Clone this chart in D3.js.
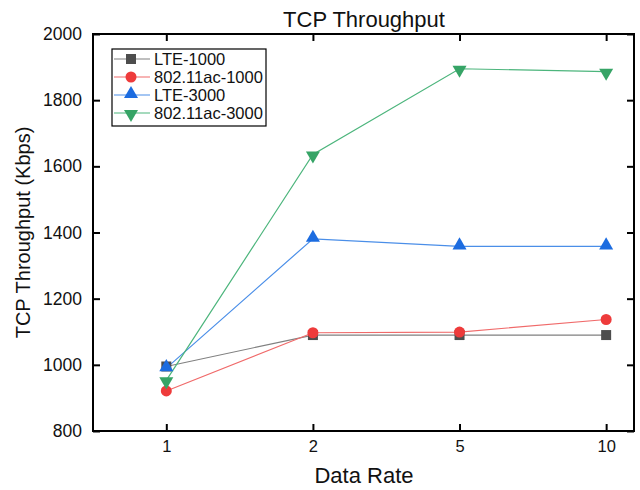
<!DOCTYPE html>
<html>
<head>
<meta charset="utf-8">
<title>TCP Throughput</title>
<style>
  body { margin: 0; background: #fff; }
  text { font-family: "Liberation Sans", Arial, sans-serif; fill: #111; }
</style>
</head>
<body>
<div id="chart"></div>
<script src="https://d3js.org/d3.v7.min.js"></script>
<script>

// data
var rates = ["1", "2", "5", "10"];
var lte1000 = [995, 1090, 1090, 1090];
var ac1000 = [921, 1097, 1099, 1137];
var lte3000 = [990, 1381, 1358, 1358];
var ac3000 = [953, 1636, 1895, 1886];
var yTicks = [800, 1000, 1200, 1400, 1600, 1800, 2000];

var series = [
    { name: "LTE-1000", values: lte1000, line: "#808080", fill: "#4d4d4d", shape: "square" },
    { name: "802.11ac-1000", values: ac1000, line: "#f06a6a", fill: "#ee3b3b", shape: "circle" },
    { name: "LTE-3000", values: lte3000, line: "#4a8ee8", fill: "#1c6ce0", shape: "up" },
    { name: "802.11ac-3000", values: ac3000, line: "#4cb57c", fill: "#36a466", shape: "down" }
];

var width = 640, height = 490;
var margin = {top: 34, right: 6, bottom: 59, left: 93};

var svg = d3.select("#chart").append("svg")
    .attr("width", width)
    .attr("height", height);

// categories placed by index, the axis runs a bit past the last one
var x = d3.scaleLinear()
    .domain([-0.5, 3.19])
    .range([margin.left, width - margin.right]);

var y = d3.scaleLinear()
    .domain([800, 2000])
    .range([height - margin.bottom, margin.top]);

var idx = d3.range(rates.length);

// axes, ticks pointing inward
svg.append("g")
    .attr("transform", "translate(0," + (height - margin.bottom) + ")")
    .call(d3.axisBottom(x).tickValues(idx).tickFormat(function(i) { return rates[i]; })
        .tickSizeInner(-7).tickSizeOuter(0).tickPadding(9))
    .call(styleAxis, "16.5px");

svg.append("g")
    .attr("transform", "translate(0," + margin.top + ")")
    .call(d3.axisTop(x).tickValues(idx).tickFormat("").tickSizeInner(-7).tickSizeOuter(0))
    .call(styleAxis, "16px");

svg.append("g")
    .attr("transform", "translate(" + margin.left + ",0)")
    .call(d3.axisLeft(y).tickValues(yTicks).tickFormat(d3.format("d"))
        .tickSizeInner(-7).tickSizeOuter(0).tickPadding(11))
    .call(styleAxis, "17.5px");

svg.append("g")
    .attr("transform", "translate(" + (width - margin.right) + ",0)")
    .call(d3.axisRight(y).tickValues(yTicks).tickFormat("").tickSizeInner(-7).tickSizeOuter(0))
    .call(styleAxis, "16px");

function styleAxis(g, size) {
    g.select(".domain").remove();
    g.selectAll(".tick line").attr("stroke", "#000").attr("stroke-width", 2);
    g.selectAll(".tick text").style("font-size", size).attr("fill", "#111");
}

// frame
svg.append("rect")
    .attr("x", margin.left)
    .attr("y", margin.top)
    .attr("width", width - margin.left - margin.right)
    .attr("height", height - margin.top - margin.bottom)
    .attr("fill", "none")
    .attr("stroke", "#000")
    .attr("stroke-width", 2);

// lines
var line = d3.line()
    .x(function(d, i) { return x(i); })
    .y(function(d) { return y(d); });

svg.selectAll(".series")
    .data(series)
    .enter().append("path")
    .attr("class", "series")
    .attr("d", function(d) { return line(d.values); })
    .attr("fill", "none")
    .attr("stroke", function(d) { return d.line; })
    .attr("stroke-width", 1.2);

var symbolFor = {
    square: d3.symbol().type(d3.symbolSquare).size(100),
    circle: d3.symbol().type(d3.symbolCircle).size(95),
    up: d3.symbol().type(d3.symbolTriangle).size(85),
    down: d3.symbol().type(d3.symbolTriangle).size(85)
};

function markerTransform(shape, px, py) {
    if (shape === "down") return "translate(" + px + "," + (py + 1) + ") rotate(180)";
    if (shape === "up") return "translate(" + px + "," + (py - 1) + ")";
    return "translate(" + px + "," + py + ")";
}

series.forEach(function(s) {
    svg.selectAll(null)
        .data(s.values)
        .enter().append("path")
        .attr("d", symbolFor[s.shape]())
        .attr("transform", function(d, i) { return markerTransform(s.shape, x(i), y(d)); })
        .attr("fill", s.fill);
});

// legend
var lg = svg.append("g").attr("transform", "translate(112,49)");
lg.append("rect")
    .attr("width", 154)
    .attr("height", 77)
    .attr("fill", "#fff")
    .attr("stroke", "#000")
    .attr("stroke-width", 1.2);

var item = lg.selectAll(".item")
    .data(series)
    .enter().append("g")
    .attr("class", "item")
    .attr("transform", function(d, i) { return "translate(0," + (10 + i * 18) + ")"; });

item.append("line")
    .attr("x1", 2).attr("x2", 38)
    .attr("stroke", function(d) { return d.line; })
    .attr("stroke-width", 1.2);

item.append("path")
    .attr("d", function(d) { return symbolFor[d.shape](); })
    .attr("transform", function(d) { return markerTransform(d.shape, 19, 0); })
    .attr("fill", function(d) { return d.fill; });

item.append("text")
    .attr("x", 42)
    .attr("dy", "0.36em")
    .style("font-size", "16.5px")
    .text(function(d) { return d.name; });

// titles
svg.append("text")
    .attr("x", 364)
    .attr("y", 27)
    .attr("text-anchor", "middle")
    .style("font-size", "22px")
    .text("TCP Throughput");

svg.append("text")
    .attr("x", 364)
    .attr("y", 483)
    .attr("text-anchor", "middle")
    .style("font-size", "22px")
    .text("Data Rate");

svg.append("text")
    .attr("transform", "translate(30," + ((margin.top + height - margin.bottom) / 2) + ") rotate(-90)")
    .attr("text-anchor", "middle")
    .style("font-size", "20px")
    .text("TCP Throughput (Kbps)");

</script>
</body>
</html>
